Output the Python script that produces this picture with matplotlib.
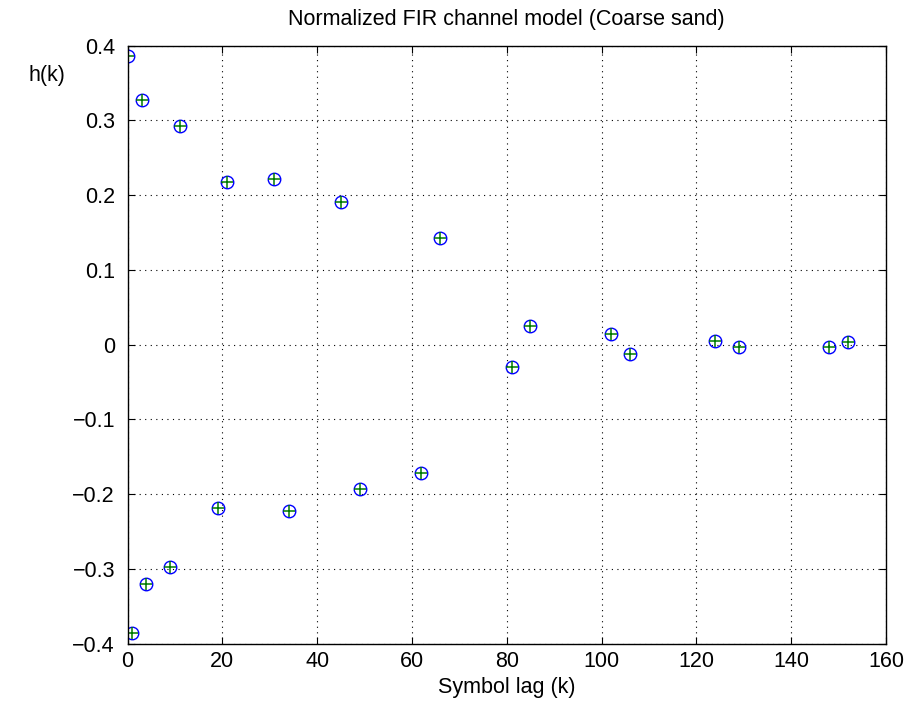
import matplotlib
matplotlib.use("Agg")
import matplotlib.pyplot as plt

plt.rcParams['font.family'] = ['Liberation Sans', 'DejaVu Sans']

lags = [0, 1, 3, 4, 9, 11, 19, 21, 31, 34, 45, 49, 62, 66, 81, 85, 102, 106, 124, 129, 148, 152]
taps = [0.386, -0.385, 0.327, -0.320, -0.297, 0.293, -0.218, 0.2175, 0.221, -0.2226,
        0.191, -0.193, -0.171, 0.143, -0.030, 0.025, 0.014, -0.0126, 0.0044, -0.0036,
        -0.0028, 0.0035]
xticks = [0, 20, 40, 60, 80, 100, 120, 140, 160]
yticks = [-0.4, -0.3, -0.2, -0.1, 0, 0.1, 0.2, 0.3, 0.4]
yticklabels = ['\u22120.4', '\u22120.3', '\u22120.2', '\u22120.1', '0', '0.1', '0.2', '0.3', '0.4']

fig = plt.figure(figsize=(9.09, 7.02), dpi=100)
ax = fig.add_axes([0.1403, 0.083, 0.8344, 0.852])

ax.plot(lags, taps, 'o', markerfacecolor='none', markeredgecolor='#0000ff',
        markersize=9, markeredgewidth=1.0, linestyle='none')
ax.plot(lags, taps, '+', color='#007a00', markersize=9, markeredgewidth=1.1,
        linestyle='none')

ax.set_xlim(0, 160)
ax.set_ylim(-0.4, 0.4)
ax.set_xticks(xticks)
ax.set_yticks(yticks)
ax.set_yticklabels(yticklabels)
ax.tick_params(direction='in', top=True, right=True, labelsize=15.5, length=5)
ax.tick_params(axis='y', pad=9)
ax.tick_params(axis='x', pad=5)
ax.grid(True, linestyle=(0, (1, 4)), color='black', linewidth=0.8)
for s in ax.spines.values():
    s.set_linewidth(1.0)

ax.set_title('Normalized FIR channel model (Coarse sand)', fontsize=15.5, pad=15)
ax.set_xlabel('Symbol lag (k)', fontsize=15.5, labelpad=4)
fig.text(0.052, 0.893, 'h(k)', fontsize=15.5, ha='center', va='center')

fig.savefig('out.png', dpi=100)
